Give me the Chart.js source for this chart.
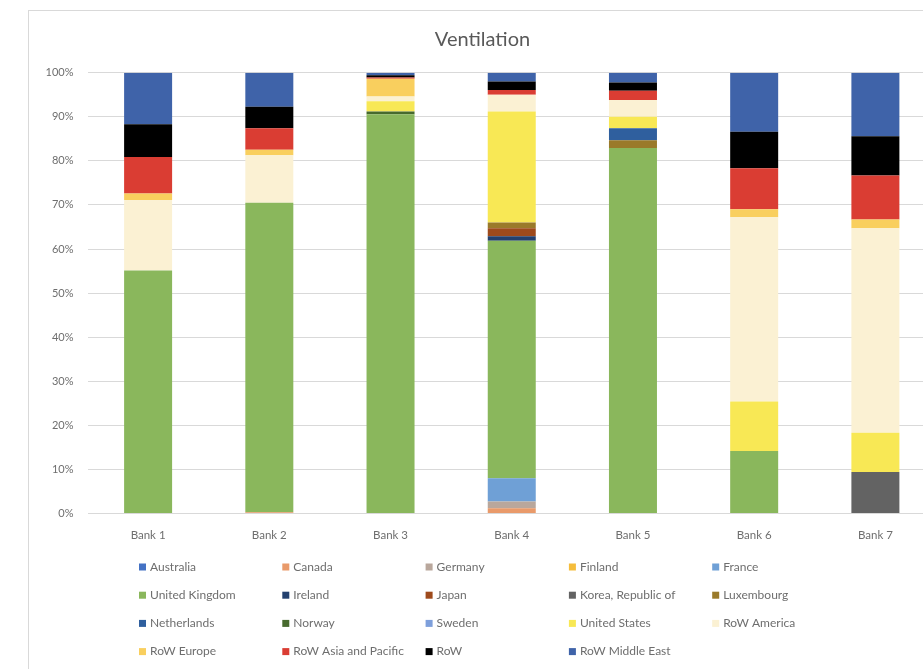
<!DOCTYPE html>
<html>
<head>
<meta charset="utf-8">
<script src="https://cdn.jsdelivr.net/npm/chart.js@4/dist/chart.umd.min.js"></script>
<style>
  html, body { margin: 0; padding: 0; background: #fff; overflow: hidden; width: 923px; height: 669px; }
  #frame { position: absolute; left: 28px; top: 10px; width: 924px; height: 672px; border: 1px solid #d9d9d9; box-sizing: border-box; }
  #frame canvas { position: absolute; left: 0; top: 0; }
</style>
</head>
<body>
<div id="frame"><canvas id="c" width="922" height="660"></canvas></div>
<script>
// Supplier-country shares of ventilation spend per bank (percent of total)
const banks = ["Bank 1", "Bank 2", "Bank 3", "Bank 4", "Bank 5", "Bank 6", "Bank 7"];

const australia      = [0, 0, 0, 0, 0, 0, 0];
const canada         = [0, 0.3, 0, 1.2, 0, 0, 0];
const germany        = [0, 0, 0, 1.5, 0, 0, 0];
const finland        = [0, 0, 0, 0, 0, 0, 0];
const france         = [0, 0, 0, 5.3, 0, 0, 0];
const unitedKingdom  = [55.1, 70.2, 90.6, 53.9, 82.9, 14.2, 0];
const ireland        = [0, 0, 0, 1.0, 0, 0, 0];
const japan          = [0, 0, 0, 1.8, 0, 0, 0];
const korea          = [0, 0, 0, 0, 0, 0, 9.4];
const luxembourg     = [0, 0, 0, 1.3, 1.8, 0, 0];
const netherlands    = [0, 0, 0, 0, 2.7, 0, 0];
const norway         = [0, 0, 0.6, 0, 0, 0, 0];
const sweden         = [0, 0, 0, 0, 0, 0, 0];
const unitedStates   = [0, 0, 2.3, 25.2, 2.6, 11.2, 8.9];
const rowAmerica     = [16.0, 10.8, 1.1, 3.8, 3.8, 41.8, 46.4];
const rowEurope      = [1.5, 1.2, 4.0, 0, 0, 1.8, 2.0];
const rowAsiaPacific = [8.3, 4.9, 0.3, 1.1, 2.1, 9.3, 10.0];
const rowOther       = [7.4, 4.9, 0.5, 1.9, 1.9, 8.3, 8.9];
const rowMiddleEast  = [11.7, 7.7, 0.6, 2.0, 2.2, 13.4, 14.4];

const yTicks = [0, 10, 20, 30, 40, 50, 60, 70, 80, 90, 100];

const series = [
  ["Australia", australia, "#4472c4"],
  ["Canada", canada, "#e99a6a"],
  ["Germany", germany, "#b9a79c"],
  ["Finland", finland, "#f5bd3c"],
  ["France", france, "#6fa0d6"],
  ["United Kingdom", unitedKingdom, "#8ab75c"],
  ["Ireland", ireland, "#23406e"],
  ["Japan", japan, "#9e4a1c"],
  ["Korea, Republic of", korea, "#636363"],
  ["Luxembourg", luxembourg, "#9a7a2a"],
  ["Netherlands", netherlands, "#2f5f9e"],
  ["Norway", norway, "#476a2e"],
  ["Sweden", sweden, "#7e9fdb"],
  ["United States", unitedStates, "#f8e855"],
  ["RoW America", rowAmerica, "#fbf1d3"],
  ["RoW Europe", rowEurope, "#f9cf5e"],
  ["RoW Asia and Pacific", rowAsiaPacific, "#da3d33"],
  ["RoW", rowOther, "#000000"],
  ["RoW Middle East", rowMiddleEast, "#3f63a9"]
];

const FONT = "Lato, 'Open Sans', sans-serif";
const TEXT = "#6e6e6e";

// Five-column legend grid drawn under the axis
const gridLegend = {
  id: "gridLegend",
  afterDraw(chart) {
    const ctx = chart.ctx;
    ctx.save();
    ctx.font = "12px " + FONT;
    ctx.textBaseline = "middle";
    ctx.textAlign = "left";
    chart.data.datasets.forEach((ds, i) => {
      const col = i % 5, row = Math.floor(i / 5);
      const x = 110 + col * 143.3;
      const y = 556 + row * 28.2;
      ctx.fillStyle = ds.backgroundColor;
      ctx.fillRect(x, y - 3.5, 7, 7);
      ctx.fillStyle = TEXT;
      ctx.fillText(ds.label, x + 11, y);
    });
    ctx.restore();
  }
};

new Chart(document.getElementById("c"), {
  type: "bar",
  data: {
    labels: banks,
    datasets: series.map(([label, data, color]) => ({
      label, data, backgroundColor: color, borderWidth: 0
    }))
  },
  options: {
    responsive: false,
    animation: false,
    devicePixelRatio: 1,
    layout: { padding: { left: 0, right: 15, top: 0, bottom: 0 } },
    datasets: { bar: { categoryPercentage: 0.4, barPercentage: 0.99 } },
    plugins: {
      legend: { display: false },
      tooltip: { enabled: false },
      title: {
        display: true,
        text: "Ventilation",
        color: "#595959",
        font: { family: FONT, size: 20, weight: "normal" },
        padding: { top: 17, bottom: 20.7 }
      }
    },
    scales: {
      x: {
        stacked: true,
        grid: { display: false },
        border: { display: false },
        ticks: { color: TEXT, font: { family: FONT, size: 11.5 }, padding: 7 },
        afterFit(scale) { scale.height = 157.5; }
      },
      y: {
        stacked: true,
        min: 0,
        max: 100,
        border: { display: false },
        grid: { color: "#d9d9d9", drawTicks: false },
        afterBuildTicks(scale) { scale.ticks = yTicks.map(v => ({ value: v })); },
        ticks: {
          color: TEXT,
          font: { family: FONT, size: 11 },
          padding: 14,
          callback: v => v + "%"
        },
        afterFit(scale) { scale.width = 58.5; }
      }
    }
  },
  plugins: [gridLegend]
});
</script>
</body>
</html>
